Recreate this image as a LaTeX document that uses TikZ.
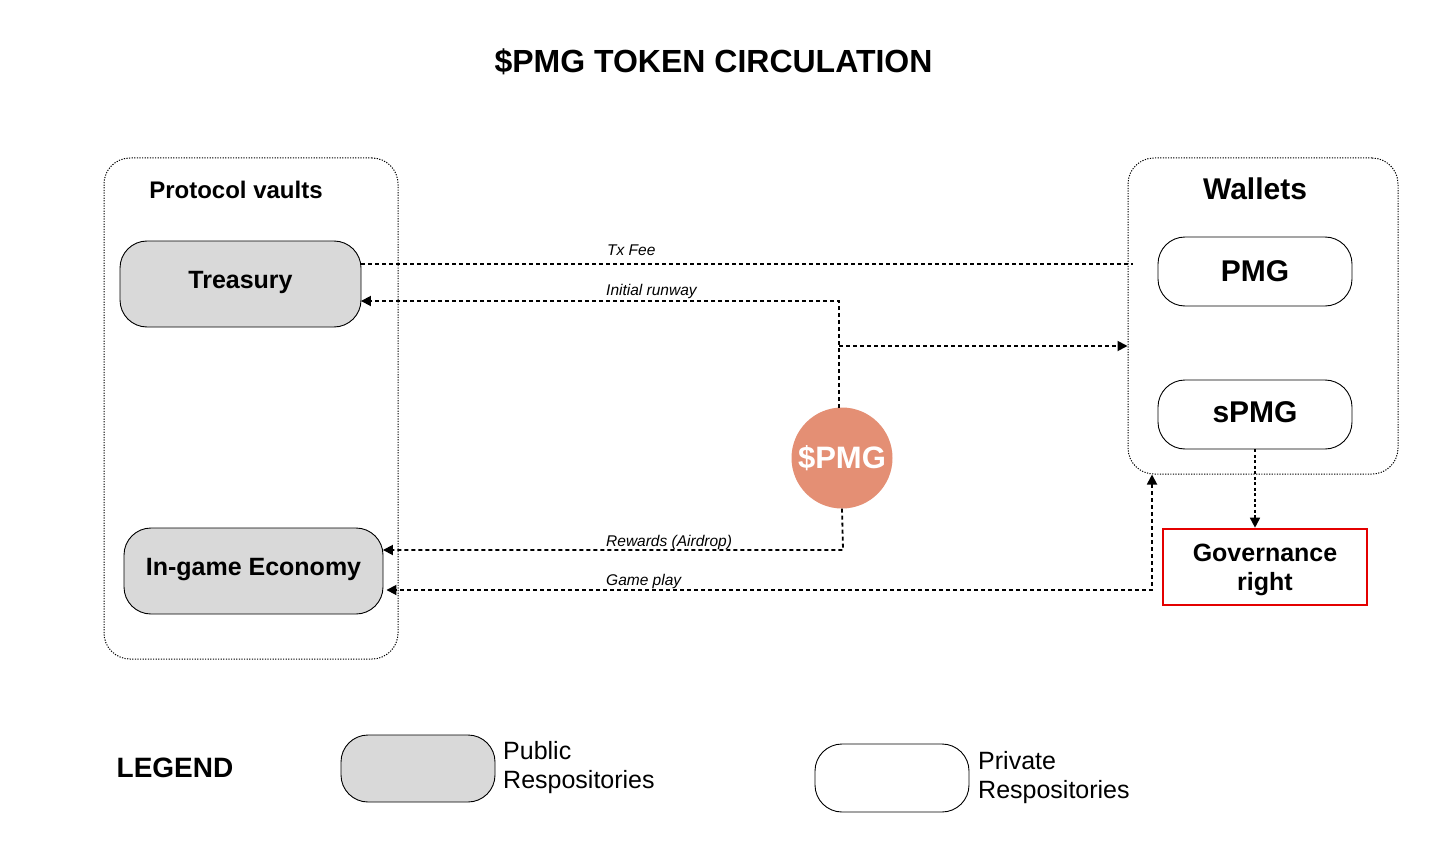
\documentclass[tikz,border=0pt]{standalone}
\usepackage{fontspec}
\setmainfont{Liberation Sans}
\usetikzlibrary{arrows.meta}
\definecolor{pubgray}{RGB}{217,217,217}
\definecolor{coin}{RGB}{228,143,116}
\definecolor{govred}{RGB}{228,0,0}
\begin{document}
\begin{tikzpicture}[x=1pt,y=-1pt,
  container/.style={draw, line width=1pt, dash pattern=on 1.2pt off 1.4pt, rounded corners=26pt, inner sep=0pt},
  repo/.style={draw, line width=0.9pt, rounded corners=27pt, inner sep=0pt, font=\bfseries\fontsize{25}{29}\selectfont},
  pubrepo/.style={repo, fill=pubgray},
  privrepo/.style={repo, fill=white},
  flow/.style={line width=1.8pt, dash pattern=on 4pt off 3pt},
  fine/.style={line width=1.6pt, dash pattern=on 3pt off 2.5pt},
  tip/.style={-{Triangle[length=10pt,width=10pt]}},
  tips/.style={{Triangle[length=10pt,width=10pt]}-{Triangle[length=10pt,width=10pt]}},
  flowlbl/.style={anchor=base west, inner sep=0pt, font=\itshape\fontsize{15.5}{18}\selectfont},
  headlbl/.style={inner sep=0pt, font=\bfseries\fontsize{24}{29}\selectfont},
  legtxt/.style={anchor=west, align=left, inner sep=0pt, font=\fontsize{25}{29}\selectfont}
]
\useasboundingbox (0,0) rectangle (1437,861);
\fill[white] (0,0) rectangle (1437,861);

% title
\node[inner sep=0pt, font=\bfseries\fontsize{32}{38}\selectfont] (title) at (713.5,62) {\$PMG TOKEN CIRCULATION};

% containers
\node[container, minimum width=294pt, minimum height=501pt] (vaults) at (251,408.5) {};
\node[headlbl] (vaultslbl) at (236,190) {Protocol vaults};
\node[container, minimum width=270pt, minimum height=316pt] (wallets) at (1263,316) {};
\node[headlbl, font=\bfseries\fontsize{30}{36}\selectfont] (walletslbl) at (1255,189) {Wallets};

% repos
\node[pubrepo, minimum width=241pt, minimum height=86pt] (treasury) at (240.5,284) {};
\node[headlbl, font=\bfseries\fontsize{25}{29}\selectfont] (treasurytxt) at (240.5,282) {Treasury};
\node[pubrepo, minimum width=259pt, minimum height=86pt] (ingame) at (253.5,571) {};
\node[headlbl, font=\bfseries\fontsize{25}{29}\selectfont] (ingametxt) at (253.5,570) {In-game Economy};
\node[privrepo, minimum width=194pt, minimum height=69pt, font=\bfseries\fontsize{30}{36}\selectfont] (pmg) at (1255,271.5) {PMG};
\node[privrepo, minimum width=194pt, minimum height=69pt] (spmg) at (1255,414.5) {};
\node[headlbl, font=\bfseries\fontsize{30}{36}\selectfont] (spmgtxt) at (1255,412) {sPMG};

% coin
\node[circle, fill=coin, minimum size=101pt, inner sep=0pt, text=white, font=\bfseries\fontsize{31}{36}\selectfont] (coin) at (842,458) {\$PMG};

% governance
\node[draw=govred, line width=2.6pt, minimum width=204pt, minimum height=76pt, inner sep=0pt] (gov) at (1265,567) {};
\node[inner sep=0pt, align=center, font=\bfseries\fontsize{25}{29}\selectfont] (govtxt) at (1265,570) {Governance\\right};

% connector helper coordinates
\coordinate (txend) at (1133,264);
\coordinate (runtop) at (839,301);
\coordinate (runbranch) at (839,346);
\coordinate (rewbot) at (843,550);
\coordinate (gpcorner) at (1152,590);

% Tx Fee
\draw[flow] ([yshift=20pt]treasury.east) -- (txend);
\node[flowlbl] (txlbl) at (607,255) {Tx Fee};

% Initial runway
\draw[flow, tip] (839,408) -- (runtop) -- ([yshift=-17pt,xshift=-0.5pt]treasury.east);
\draw[flow, tip] (runbranch) -- (wallets.west |- runbranch);
\node[flowlbl] (runlbl) at (606,295.5) {Initial runway};

% Rewards
\draw[flow, tip] (coin.south) -- (rewbot) -- ([yshift=21pt,xshift=-0.5pt]ingame.east);
\node[flowlbl] (rewlbl) at (606,546) {Rewards (Airdrop)};

% Game play
\draw[flow, tips] (gpcorner |- wallets.south) -- (gpcorner) -- ([yshift=-19pt,xshift=3pt]ingame.east);
\node[flowlbl] (gplbl) at (606,585) {Game play};

% sPMG -> governance
\draw[fine, tip] (spmg.south) -- (spmg.south |- gov.north);

% legend
\node[inner sep=0pt, font=\bfseries\fontsize{28}{34}\selectfont] (legend) at (175,768) {LEGEND};
\node[pubrepo, minimum width=154pt, minimum height=67pt] (legpub) at (418,768.5) {};
\node[legtxt] (legpubtxt) at (503,767.5) {Public\\Respositories};
\node[privrepo, minimum width=154pt, minimum height=68pt] (legpriv) at (892,778) {};
\node[legtxt] (legprivtxt) at (978,777.5) {Private\\Respositories};
\end{tikzpicture}
\end{document}
